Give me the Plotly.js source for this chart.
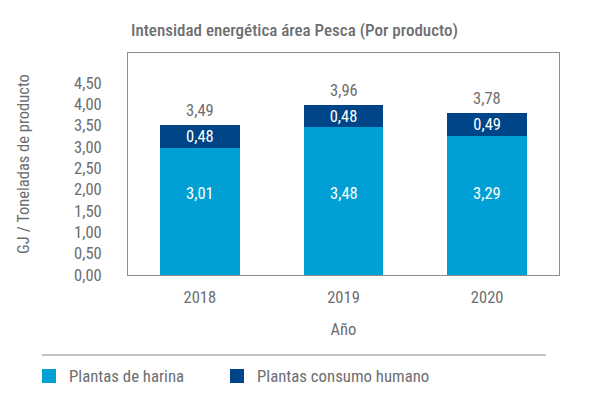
<!DOCTYPE html>
<html><head><meta charset="utf-8">
<script src="https://cdn.plot.ly/plotly-3.0.1.min.js"></script>
<style>html,body{margin:0;padding:0;background:#fff}#chart{width:604px;height:396px}</style>
</head><body><div id="chart"></div>
<script>
const years = ['2018', '2019', '2020'];
const harina = [3.01, 3.48, 3.29];
const consumo = [0.48, 0.48, 0.49];
const totals = [3.49, 3.96, 3.78];
const yTicks = [0, 0.5, 1, 1.5, 2, 2.5, 3, 3.5, 4, 4.5];
const harinaLabelY = 1.9;

const FONT = '"Roboto Condensed", "Liberation Sans Narrow", "DejaVu Sans Condensed", Roboto, sans-serif';
const GREY = '#6d6e71';
const C1 = '#00a0d4';
const C2 = '#004587';

const traces = [
  {type: 'bar', name: 'Plantas de harina', x: years, y: harina, legend: 'legend',
   marker: {color: C1, line: {color: C1, width: 2}}, hoverinfo: 'skip'},
  {type: 'bar', name: 'Plantas consumo humano', x: years, y: consumo, legend: 'legend2',
   marker: {color: C2, line: {color: C2, width: 2}}, texttemplate: '%{y:.2f}', textposition: 'inside',
   insidetextanchor: 'middle', constraintext: 'none',
   textfont: {color: '#fff', size: 16.5, family: FONT}, hoverinfo: 'skip'}
];

const annotations = years.map((yr, i) => ({
  x: i, y: totals[i], xref: 'x', yref: 'y', yanchor: 'bottom', yshift: 4,
  text: totals[i].toFixed(2).replace('.', ','), showarrow: false,
  font: {size: 16.5, color: GREY, family: FONT}
})).concat(years.map((yr, i) => ({
  x: i, y: harinaLabelY, xref: 'x', yref: 'y', yanchor: 'middle',
  text: harina[i].toFixed(2).replace('.', ','), showarrow: false,
  font: {size: 16.5, color: '#fff', family: FONT}
})));

const legendBase = {orientation: 'h', xref: 'container', xanchor: 'left',
  y: 1 - 376/396, yref: 'container', yanchor: 'middle',
  font: {size: 16.8, color: GREY}, bgcolor: 'rgba(0,0,0,0)'};

const layout = {
  width: 604, height: 396,
  margin: {l: 128, r: 45, t: 53, b: 121},
  paper_bgcolor: '#fff', plot_bgcolor: '#fff',
  separators: ',.',
  font: {family: FONT, color: GREY, size: 16},
  barmode: 'stack', bargap: 0.458,
  title: {text: 'Intensidad energética área Pesca (Por producto)',
          font: {size: 17, color: GREY, family: FONT, weight: 500},
          x: 131/604, xanchor: 'left', xref: 'container', y: 1 - 30/396, yref: 'container', yanchor: 'middle'},
  xaxis: {type: 'category', categoryorder: 'array', categoryarray: years,
          showline: true, mirror: true, linecolor: '#8c8c8c', linewidth: 1,
          tickfont: {size: 16.5, color: GREY}, ticks: '', ticklabelstandoff: 7, showgrid: false,
          title: {text: 'Año', font: {size: 16.5, color: GREY}, standoff: 17}},
  yaxis: {range: [0, 5.2], tickvals: yTicks, tickformat: '.2f', showgrid: false, zeroline: false,
          showline: true, mirror: true, linecolor: '#8c8c8c', linewidth: 1,
          ticks: '', ticklabelstandoff: 22, tickfont: {size: 16.5, color: GREY},
          title: {text: 'GJ / Toneladas de producto', font: {size: 16.5, color: GREY}, standoff: 40}},
  showlegend: true,
  legend: Object.assign({}, legendBase, {x: 29/604}),
  legend2: Object.assign({}, legendBase, {x: 217/604}),
  shapes: [{type: 'line', xref: 'paper', yref: 'paper', x0: -86/431, x1: 418/431,
            y0: -80/222, y1: -80/222, line: {color: '#8c8c8c', width: 1}}],
  annotations: annotations
};

Plotly.newPlot('chart', traces, layout, {displayModeBar: false, staticPlot: true});
</script></body></html>
